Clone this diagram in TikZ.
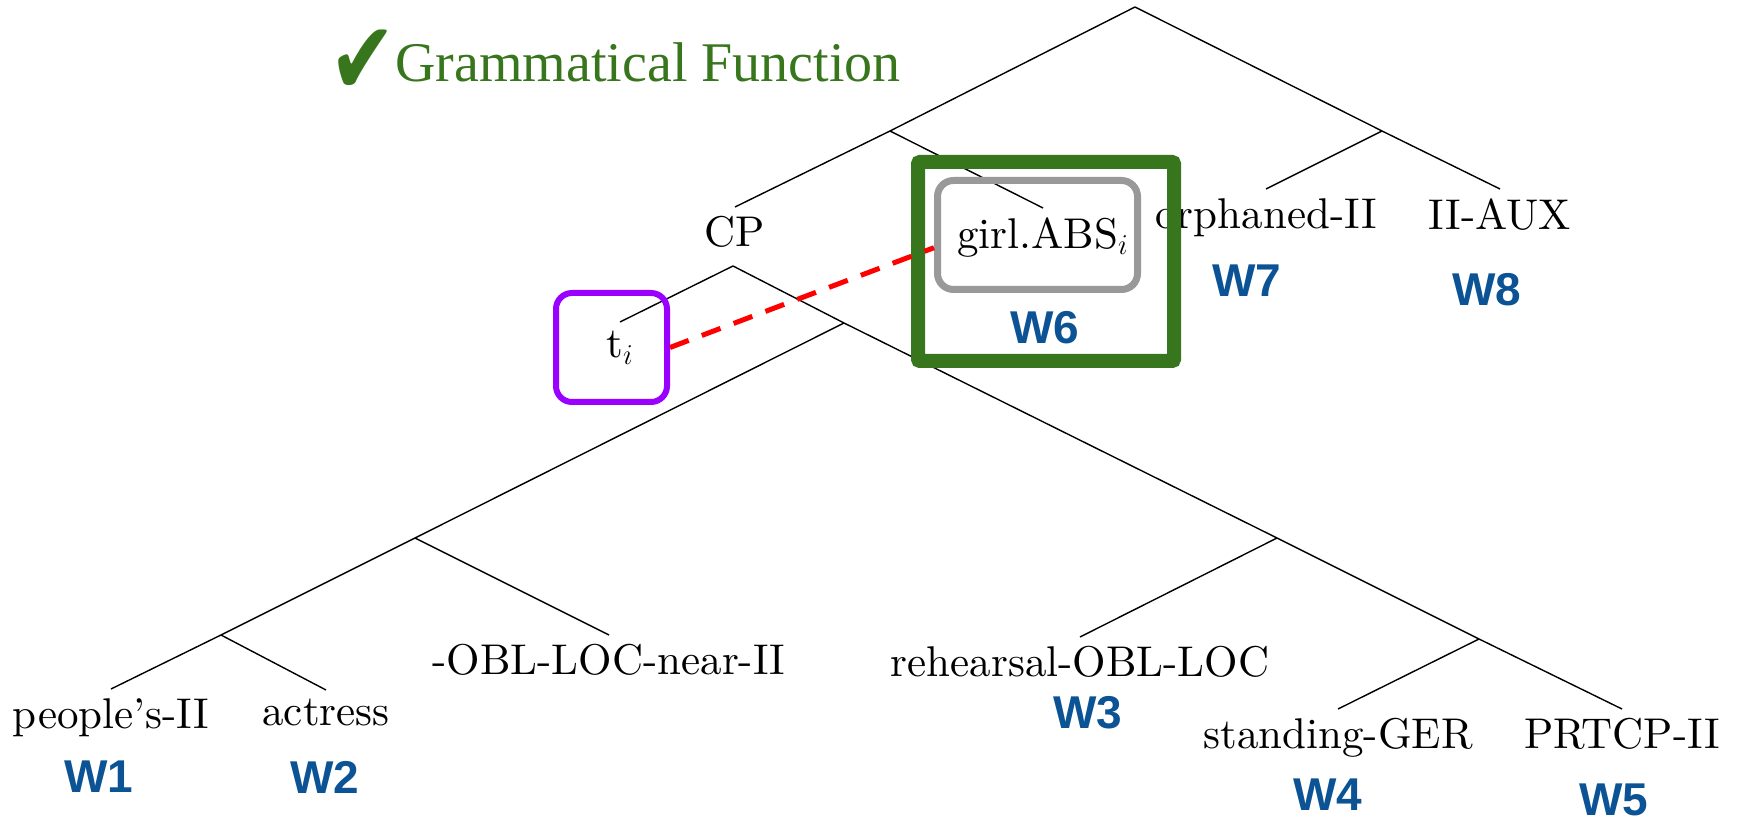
\documentclass[tikz,border=0pt]{standalone}
\usepackage{fontspec}
\newfontfamily\treefont{lmroman10-regular.otf}[Ligatures=TeX]
\newfontfamily\wfont{Liberation Sans}
\newfontfamily\gfont{Liberation Serif}
\newfontfamily\symfont{DejaVu Sans}
\usepackage{tikz}
\definecolor{wblue}{HTML}{0B5394}
\definecolor{gfgreen}{HTML}{38761D}
\definecolor{tpurple}{HTML}{9900FF}
\definecolor{hgrey}{HTML}{999999}

\begin{document}
\begin{tikzpicture}[x=0.5pt,y=-0.5pt,
 word/.style={font=\treefont\fontsize{21.5}{26}\selectfont,inner sep=4.5pt,anchor=north},
 wlab/.style={font=\wfont\bfseries\fontsize{23}{28}\selectfont,text=wblue,inner sep=0pt},
 branch/.style={line width=0.7pt},
 tracebox/.style={draw=tpurple,line width=3pt,rounded corners=8pt,minimum width=55.5pt,minimum height=54.5pt},
 headbox/.style={draw=hgrey,line width=3.5pt,rounded corners=8pt,minimum width=100pt,minimum height=54.5pt},
 gfbox/.style={draw=gfgreen,line width=7pt,rounded corners=1pt,minimum width=128pt,minimum height=99.5pt},
 link/.style={draw=red,line width=2.5pt,dash pattern=on 10pt off 7pt}]
\useasboundingbox (0,0) rectangle (1740,822);
\node[font=\symfont\fontsize{40}{42}\selectfont,text=gfgreen,inner sep=0pt] (chk) at (363,62) {\scalebox{1}[1.28]{✔}};
\node[font=\gfont\fontsize{28}{32}\selectfont,text=gfgreen,anchor=base west,inner sep=0pt] (gf) at (395,82) {Grammatical Function};
\coordinate (root) at (1135,7);
\coordinate (nA) at (890,131); \coordinate (nB) at (1382,131);
\coordinate (cpb) at (733,266); \coordinate (nX) at (844,323);
\coordinate (nY) at (415,538); \coordinate (nZ) at (1277,538);
\coordinate (nW) at (221,635); \coordinate (nV) at (1479,639);
\node[word] (cp) at (735,207) {CP};
\node[word] (girl) at (1043,208) {girl.ABS$_i$};
\node[word] (orph) at (1266,189) {orphaned-II};
\node[word] (aux) at (1500,189) {II-AUX};
\node[word] (t) at (620,322) {t$_i$};
\node[word] (obl) at (609,635) {-OBL-LOC-near-II};
\node[word] (ppl) at (111,689) {people's-II};
\node[word] (act) at (326,690) {actress};
\node[word] (reh) at (1080,637) {rehearsal-OBL-LOC};
\node[word] (std) at (1338,709) {standing-GER};
\node[word] (prt) at (1622,709) {PRTCP-II};
\draw[branch] (root)--(nA); \draw[branch] (root)--(nB);
\draw[branch] (nA)--(cp.north); \draw[branch] (nA)--(girl.north);
\draw[branch] (nB)--(orph.north); \draw[branch] (nB)--(aux.north);
\draw[branch] (cpb)--(t.north); \draw[branch] (cpb)--(nX);
\draw[branch] (nX)--(nY); \draw[branch] (nX)--(nZ);
\draw[branch] (nY)--(nW); \draw[branch] (nY)--(obl.north);
\draw[branch] (nW)--(ppl.north); \draw[branch] (nW)--(act.north);
\draw[branch] (nZ)--(reh.north); \draw[branch] (nZ)--(nV);
\draw[branch] (nV)--(std.north); \draw[branch] (nV)--(prt.north);
\node[wlab] (w1) at (99,777) {W1};
\node[wlab] (w2) at (325,777) {W2};
\node[wlab] (w3) at (1088,713) {W3};
\node[wlab] (w4) at (1328,795) {W4};
\node[wlab] (w5) at (1614,800) {W5};
\node[wlab] (w6) at (1045,328) {W6};
\node[wlab] (w7) at (1247,281) {W7};
\node[wlab] (w8) at (1487,290) {W8};
\node[tracebox] (tbox) at (611.5,347.5) {};
\node[headbox] (gbox) at (1037.5,235) {};
\node[gfbox] (fbox) at (1046,261.5) {};
\draw[link] (tbox.east)--(gbox.187);
\end{tikzpicture}
\end{document}
